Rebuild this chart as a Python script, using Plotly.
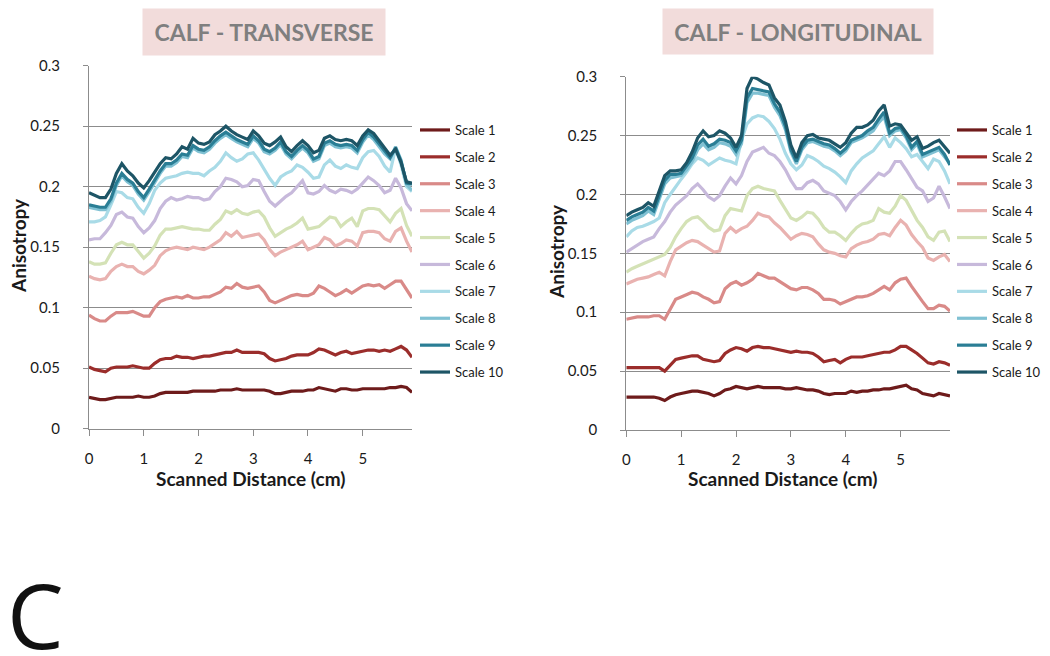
import plotly.graph_objects as go

# ---------------- data ----------------
distance = [0.0, 0.1, 0.2, 0.3, 0.4, 0.5, 0.6, 0.7, 0.8, 0.9,
            1.0, 1.1, 1.2, 1.3, 1.4, 1.5, 1.6, 1.7, 1.8, 1.9,
            2.0, 2.1, 2.2, 2.3, 2.4, 2.5, 2.6, 2.7, 2.8, 2.9,
            3.0, 3.1, 3.2, 3.3, 3.4, 3.5, 3.6, 3.7, 3.8, 3.9,
            4.0, 4.1, 4.2, 4.3, 4.4, 4.5, 4.6, 4.7, 4.8, 4.9,
            5.0, 5.1, 5.2, 5.3, 5.4, 5.5, 5.6, 5.7, 5.8, 5.9]

scale_names = ["Scale 1", "Scale 2", "Scale 3", "Scale 4", "Scale 5",
               "Scale 6", "Scale 7", "Scale 8", "Scale 9", "Scale 10"]

# CALF - TRANSVERSE
trans_s1 = [0.026, 0.025, 0.024, 0.024, 0.025, 0.026, 0.026, 0.026, 0.026, 0.027,
            0.026, 0.026, 0.027, 0.029, 0.030, 0.030, 0.030, 0.030, 0.030, 0.031,
            0.031, 0.031, 0.031, 0.031, 0.032, 0.032, 0.032, 0.033, 0.032, 0.032,
            0.032, 0.032, 0.032, 0.031, 0.029, 0.029, 0.030, 0.031, 0.031, 0.031,
            0.032, 0.032, 0.034, 0.033, 0.032, 0.031, 0.033, 0.033, 0.032, 0.032,
            0.033, 0.033, 0.033, 0.033, 0.033, 0.034, 0.034, 0.035, 0.034, 0.030]
trans_s2 = [0.051, 0.049, 0.048, 0.047, 0.050, 0.051, 0.051, 0.051, 0.052, 0.051,
            0.050, 0.050, 0.054, 0.057, 0.058, 0.058, 0.060, 0.059, 0.059, 0.058,
            0.059, 0.060, 0.060, 0.061, 0.062, 0.063, 0.063, 0.065, 0.063, 0.063,
            0.063, 0.063, 0.062, 0.058, 0.056, 0.057, 0.058, 0.060, 0.061, 0.061,
            0.061, 0.063, 0.066, 0.065, 0.063, 0.061, 0.063, 0.064, 0.062, 0.063,
            0.064, 0.065, 0.065, 0.064, 0.065, 0.064, 0.066, 0.068, 0.065, 0.059]
trans_s3 = [0.094, 0.091, 0.089, 0.089, 0.093, 0.096, 0.096, 0.096, 0.097, 0.095,
            0.093, 0.093, 0.100, 0.105, 0.107, 0.108, 0.109, 0.108, 0.110, 0.108,
            0.108, 0.109, 0.109, 0.111, 0.113, 0.117, 0.116, 0.120, 0.117, 0.116,
            0.117, 0.118, 0.113, 0.106, 0.104, 0.106, 0.108, 0.110, 0.111, 0.110,
            0.110, 0.112, 0.118, 0.116, 0.113, 0.110, 0.112, 0.115, 0.112, 0.115,
            0.118, 0.119, 0.118, 0.119, 0.116, 0.119, 0.122, 0.122, 0.115, 0.108]
trans_s4 = [0.126, 0.124, 0.123, 0.124, 0.130, 0.134, 0.136, 0.134, 0.134, 0.130,
            0.128, 0.131, 0.135, 0.143, 0.147, 0.149, 0.150, 0.149, 0.148, 0.150,
            0.149, 0.148, 0.150, 0.153, 0.156, 0.162, 0.159, 0.163, 0.158, 0.159,
            0.160, 0.161, 0.156, 0.148, 0.143, 0.146, 0.148, 0.150, 0.152, 0.155,
            0.148, 0.150, 0.152, 0.158, 0.156, 0.151, 0.153, 0.156, 0.155, 0.151,
            0.162, 0.163, 0.163, 0.162, 0.157, 0.155, 0.163, 0.166, 0.155, 0.146]
trans_s5 = [0.138, 0.136, 0.136, 0.137, 0.145, 0.152, 0.154, 0.152, 0.152, 0.146,
            0.141, 0.145, 0.151, 0.160, 0.165, 0.165, 0.166, 0.167, 0.166, 0.165,
            0.165, 0.164, 0.164, 0.169, 0.173, 0.180, 0.178, 0.181, 0.178, 0.177,
            0.179, 0.180, 0.175, 0.166, 0.159, 0.162, 0.165, 0.167, 0.170, 0.174,
            0.165, 0.166, 0.167, 0.171, 0.175, 0.174, 0.167, 0.171, 0.174, 0.167,
            0.180, 0.182, 0.182, 0.181, 0.176, 0.171, 0.178, 0.182, 0.168, 0.159]
trans_s6 = [0.156, 0.157, 0.157, 0.162, 0.168, 0.177, 0.179, 0.175, 0.174, 0.167,
            0.162, 0.166, 0.172, 0.182, 0.188, 0.191, 0.189, 0.190, 0.192, 0.191,
            0.191, 0.189, 0.190, 0.196, 0.200, 0.207, 0.206, 0.204, 0.200, 0.201,
            0.206, 0.205, 0.196, 0.188, 0.184, 0.188, 0.192, 0.195, 0.200, 0.205,
            0.195, 0.194, 0.196, 0.201, 0.197, 0.195, 0.198, 0.197, 0.195, 0.198,
            0.203, 0.208, 0.205, 0.201, 0.195, 0.197, 0.207, 0.199, 0.186, 0.180]
trans_s7 = [0.171, 0.171, 0.172, 0.175, 0.185, 0.196, 0.195, 0.191, 0.190, 0.183,
            0.178, 0.186, 0.197, 0.203, 0.207, 0.208, 0.209, 0.211, 0.212, 0.211,
            0.211, 0.209, 0.213, 0.216, 0.221, 0.228, 0.224, 0.221, 0.223, 0.227,
            0.228, 0.222, 0.214, 0.207, 0.201, 0.208, 0.211, 0.213, 0.218, 0.216,
            0.212, 0.207, 0.208, 0.218, 0.222, 0.217, 0.215, 0.218, 0.216, 0.215,
            0.224, 0.229, 0.230, 0.225, 0.217, 0.212, 0.232, 0.218, 0.200, 0.196]
trans_s8 = [0.183, 0.182, 0.181, 0.181, 0.188, 0.201, 0.209, 0.204, 0.201, 0.194,
            0.189, 0.196, 0.204, 0.211, 0.217, 0.217, 0.220, 0.225, 0.224, 0.232,
            0.229, 0.228, 0.231, 0.236, 0.240, 0.243, 0.240, 0.237, 0.235, 0.233,
            0.240, 0.236, 0.229, 0.227, 0.230, 0.235, 0.227, 0.223, 0.228, 0.232,
            0.228, 0.221, 0.223, 0.234, 0.236, 0.233, 0.232, 0.233, 0.232, 0.228,
            0.237, 0.243, 0.239, 0.233, 0.227, 0.223, 0.233, 0.222, 0.202, 0.197]
trans_s9 = [0.185, 0.184, 0.183, 0.183, 0.190, 0.203, 0.211, 0.206, 0.203, 0.196,
            0.191, 0.198, 0.206, 0.213, 0.219, 0.219, 0.222, 0.227, 0.226, 0.234,
            0.231, 0.230, 0.233, 0.238, 0.242, 0.245, 0.242, 0.239, 0.237, 0.235,
            0.242, 0.238, 0.231, 0.229, 0.232, 0.237, 0.229, 0.225, 0.230, 0.234,
            0.230, 0.223, 0.225, 0.236, 0.238, 0.235, 0.234, 0.235, 0.234, 0.230,
            0.239, 0.245, 0.241, 0.235, 0.229, 0.224, 0.232, 0.221, 0.203, 0.202]
trans_s10 = [0.195, 0.193, 0.191, 0.191, 0.198, 0.211, 0.219, 0.213, 0.209, 0.203,
             0.199, 0.205, 0.212, 0.219, 0.224, 0.223, 0.227, 0.233, 0.231, 0.240,
             0.236, 0.235, 0.237, 0.243, 0.246, 0.250, 0.246, 0.243, 0.241, 0.239,
             0.246, 0.242, 0.236, 0.234, 0.237, 0.241, 0.233, 0.229, 0.234, 0.238,
             0.234, 0.228, 0.230, 0.240, 0.242, 0.239, 0.238, 0.239, 0.238, 0.234,
             0.242, 0.247, 0.244, 0.238, 0.232, 0.226, 0.231, 0.220, 0.204, 0.203]

# CALF - LONGITUDINAL
long_s1 = [0.028, 0.028, 0.028, 0.028, 0.028, 0.028, 0.027, 0.025, 0.028, 0.030,
           0.031, 0.032, 0.033, 0.033, 0.032, 0.031, 0.029, 0.031, 0.034, 0.035,
           0.037, 0.036, 0.035, 0.036, 0.037, 0.036, 0.036, 0.036, 0.036, 0.035,
           0.035, 0.036, 0.035, 0.034, 0.034, 0.033, 0.031, 0.030, 0.031, 0.031,
           0.031, 0.033, 0.032, 0.033, 0.033, 0.034, 0.034, 0.035, 0.035, 0.036,
           0.037, 0.038, 0.035, 0.034, 0.031, 0.030, 0.029, 0.031, 0.030, 0.029]
long_s2 = [0.053, 0.053, 0.053, 0.053, 0.053, 0.053, 0.053, 0.050, 0.055, 0.060,
           0.061, 0.062, 0.063, 0.063, 0.060, 0.059, 0.058, 0.059, 0.065, 0.068,
           0.070, 0.069, 0.067, 0.070, 0.071, 0.070, 0.070, 0.069, 0.068, 0.067,
           0.066, 0.067, 0.066, 0.066, 0.065, 0.062, 0.058, 0.059, 0.060, 0.057,
           0.060, 0.062, 0.062, 0.062, 0.063, 0.064, 0.065, 0.066, 0.066, 0.068,
           0.071, 0.071, 0.068, 0.065, 0.061, 0.057, 0.056, 0.058, 0.057, 0.055]
long_s3 = [0.094, 0.095, 0.096, 0.096, 0.096, 0.097, 0.097, 0.094, 0.102, 0.111,
           0.113, 0.115, 0.117, 0.116, 0.113, 0.111, 0.108, 0.109, 0.120, 0.124,
           0.126, 0.123, 0.125, 0.128, 0.133, 0.131, 0.129, 0.129, 0.126, 0.123,
           0.120, 0.119, 0.121, 0.121, 0.119, 0.116, 0.111, 0.111, 0.110, 0.107,
           0.109, 0.111, 0.113, 0.113, 0.114, 0.116, 0.119, 0.122, 0.119, 0.125,
           0.128, 0.129, 0.122, 0.115, 0.109, 0.103, 0.103, 0.106, 0.105, 0.101]
long_s4 = [0.124, 0.126, 0.128, 0.129, 0.130, 0.132, 0.134, 0.131, 0.143, 0.153,
           0.156, 0.159, 0.161, 0.160, 0.157, 0.154, 0.151, 0.152, 0.167, 0.172,
           0.168, 0.171, 0.173, 0.178, 0.184, 0.182, 0.181, 0.176, 0.172, 0.167,
           0.162, 0.165, 0.167, 0.166, 0.164, 0.158, 0.153, 0.151, 0.150, 0.148,
           0.147, 0.154, 0.157, 0.159, 0.160, 0.162, 0.166, 0.167, 0.165, 0.172,
           0.178, 0.174, 0.166, 0.160, 0.155, 0.146, 0.144, 0.147, 0.149, 0.143]
long_s5 = [0.134, 0.137, 0.139, 0.141, 0.143, 0.145, 0.147, 0.149, 0.155, 0.164,
           0.171, 0.177, 0.180, 0.181, 0.177, 0.172, 0.169, 0.170, 0.182, 0.188,
           0.187, 0.186, 0.199, 0.205, 0.207, 0.205, 0.204, 0.203, 0.195, 0.187,
           0.180, 0.178, 0.181, 0.185, 0.184, 0.179, 0.172, 0.168, 0.168, 0.165,
           0.161, 0.167, 0.172, 0.175, 0.176, 0.178, 0.188, 0.185, 0.184, 0.190,
           0.199, 0.195, 0.187, 0.178, 0.172, 0.164, 0.161, 0.168, 0.169, 0.160]
long_s6 = [0.151, 0.154, 0.157, 0.160, 0.162, 0.164, 0.171, 0.177, 0.185, 0.191,
           0.195, 0.199, 0.205, 0.209, 0.204, 0.198, 0.195, 0.199, 0.207, 0.214,
           0.209, 0.216, 0.228, 0.236, 0.238, 0.240, 0.235, 0.233, 0.228, 0.221,
           0.212, 0.205, 0.205, 0.210, 0.212, 0.209, 0.203, 0.201, 0.199, 0.194,
           0.187, 0.194, 0.199, 0.203, 0.208, 0.213, 0.218, 0.216, 0.220, 0.228,
           0.228, 0.221, 0.214, 0.206, 0.203, 0.194, 0.197, 0.207, 0.198, 0.188]
long_s7 = [0.164, 0.169, 0.172, 0.173, 0.175, 0.177, 0.180, 0.193, 0.200, 0.207,
           0.213, 0.219, 0.226, 0.231, 0.229, 0.225, 0.228, 0.231, 0.229, 0.228,
           0.226, 0.246, 0.260, 0.265, 0.267, 0.266, 0.262, 0.256, 0.247, 0.235,
           0.226, 0.221, 0.225, 0.233, 0.231, 0.228, 0.224, 0.222, 0.219, 0.215,
           0.210, 0.220, 0.226, 0.231, 0.234, 0.237, 0.243, 0.249, 0.240, 0.248,
           0.244, 0.239, 0.232, 0.234, 0.228, 0.222, 0.230, 0.228, 0.220, 0.209]
long_s8 = [0.175, 0.178, 0.180, 0.182, 0.186, 0.183, 0.196, 0.209, 0.214, 0.215,
           0.216, 0.221, 0.228, 0.238, 0.243, 0.238, 0.240, 0.244, 0.243, 0.241,
           0.234, 0.243, 0.278, 0.286, 0.286, 0.285, 0.284, 0.274, 0.267, 0.255,
           0.236, 0.226, 0.238, 0.244, 0.245, 0.243, 0.241, 0.240, 0.237, 0.233,
           0.237, 0.244, 0.246, 0.248, 0.251, 0.254, 0.261, 0.266, 0.250, 0.254,
           0.255, 0.248, 0.238, 0.243, 0.232, 0.234, 0.236, 0.238, 0.232, 0.226]
long_s9 = [0.178, 0.181, 0.183, 0.185, 0.189, 0.186, 0.199, 0.212, 0.217, 0.217,
           0.218, 0.224, 0.231, 0.242, 0.247, 0.241, 0.243, 0.247, 0.246, 0.244,
           0.237, 0.246, 0.282, 0.290, 0.289, 0.288, 0.287, 0.277, 0.270, 0.258,
           0.238, 0.228, 0.240, 0.246, 0.247, 0.245, 0.243, 0.242, 0.239, 0.235,
           0.239, 0.246, 0.248, 0.250, 0.254, 0.257, 0.264, 0.270, 0.252, 0.256,
           0.257, 0.250, 0.240, 0.245, 0.234, 0.236, 0.238, 0.240, 0.234, 0.225]
long_s10 = [0.182, 0.185, 0.187, 0.189, 0.193, 0.190, 0.203, 0.216, 0.220, 0.220,
            0.221, 0.227, 0.236, 0.248, 0.254, 0.249, 0.250, 0.254, 0.252, 0.248,
            0.240, 0.250, 0.290, 0.300, 0.298, 0.295, 0.293, 0.282, 0.276, 0.262,
            0.242, 0.231, 0.244, 0.250, 0.251, 0.248, 0.247, 0.246, 0.243, 0.240,
            0.244, 0.252, 0.257, 0.257, 0.259, 0.263, 0.271, 0.276, 0.258, 0.260,
            0.259, 0.253, 0.246, 0.249, 0.239, 0.241, 0.244, 0.246, 0.240, 0.235]

transverse = [trans_s1, trans_s2, trans_s3, trans_s4, trans_s5,
              trans_s6, trans_s7, trans_s8, trans_s9, trans_s10]
longitudinal = [long_s1, long_s2, long_s3, long_s4, long_s5,
                long_s6, long_s7, long_s8, long_s9, long_s10]

y_tickvals = [0, 0.05, 0.1, 0.15, 0.2, 0.25, 0.3]
y_ticktext = ["0", "0.05", "0.1", "0.15", "0.2", "0.25", "0.3"]
x_tickvals = [0, 1, 2, 3, 4, 5]

colors = ["#6e1b1b", "#9b2d2b", "#d98a88", "#e9b2b0", "#d4e2b6",
          "#c7b9db", "#a9dbe7", "#80c1d3", "#2a7e95", "#1d5566"]

FONT = "Lato, 'Open Sans', sans-serif"
GRID = "#8c8c8c"

fig = go.Figure()

for i, name in enumerate(scale_names):
    fig.add_trace(go.Scatter(
        x=distance, y=transverse[i], name=name, mode="lines",
        line=dict(color=colors[i], width=3.2),
        xaxis="x", yaxis="y", legend="legend", legendgroup="t%d" % i,
    ))
for i, name in enumerate(scale_names):
    fig.add_trace(go.Scatter(
        x=distance, y=longitudinal[i], name=name, mode="lines",
        line=dict(color=colors[i], width=3.2),
        xaxis="x2", yaxis="y2", legend="legend2", legendgroup="l%d" % i,
    ))

W, H = 1050, 656
OFF = 8  # page body margin in the browser


def px(x):
    return (x - OFF) / W


def py(y):
    return 1 - (y - OFF) / H


def xd(a, b):
    return [px(a), px(b)]


def yd(top, bottom):
    return [py(bottom), py(top)]


axis_common_x = dict(
    range=[0, 5.9], tickvals=x_tickvals, showgrid=False, zeroline=False,
    showline=True, linecolor=GRID, linewidth=1, automargin=False,
    ticks="outside", ticklen=6, tickcolor=GRID, ticklabelstandoff=10,
    tickfont=dict(family=FONT, size=15, color="#1a1a1a"),
)
axis_common_y = dict(
    range=[0, 0.3], tickvals=y_tickvals, ticktext=y_ticktext,
    showgrid=True, gridcolor=GRID, gridwidth=1, zeroline=False,
    showline=True, linecolor=GRID, linewidth=1, automargin=False,
    ticks="outside", ticklen=5, tickcolor=GRID, ticklabelstandoff=20,
    tickfont=dict(family=FONT, size=15, color="#1a1a1a"),
)

legend_common = dict(
    font=dict(family=FONT, size=13, color="#1a1a1a"),
    bgcolor="rgba(0,0,0,0)", tracegroupgap=7,
    xanchor="left", yanchor="top", itemwidth=30,
)

fig.update_layout(
    width=W, height=H,
    margin=dict(l=0, r=0, t=0, b=0, pad=0, autoexpand=False),
    paper_bgcolor="white", plot_bgcolor="white",
    xaxis=dict(domain=xd(89, 412), anchor="y", **axis_common_x),
    yaxis=dict(domain=yd(65.7, 428.7), anchor="x", **axis_common_y),
    xaxis2=dict(domain=xd(626.3, 950), anchor="y2", **axis_common_x),
    yaxis2=dict(domain=yd(76.7, 430), anchor="x2", **axis_common_y),
    legend=dict(x=px(415), y=py(115), **legend_common),
    legend2=dict(x=px(952), y=py(115), **legend_common),
    showlegend=True,
)

annots = [
    dict(text="<b>CALF - TRANSVERSE</b>", x=px(264), y=py(32),
         width=242, height=46, bgcolor="#f2dcdb",
         font=dict(family=FONT, size=23, color="#7f7f7f")),
    dict(text="<b>CALF - LONGITUDINAL</b>", x=px(798), y=py(31.5),
         width=270, height=45, bgcolor="#f2dcdb",
         font=dict(family=FONT, size=23, color="#7f7f7f")),
    dict(text="<b>Scanned Distance (cm)</b>", x=px(250), y=py(478),
         font=dict(family=FONT, size=19, color="#1a1a1a")),
    dict(text="<b>Scanned Distance (cm)</b>", x=px(782), y=py(478),
         font=dict(family=FONT, size=19, color="#1a1a1a")),
    dict(text="<b>Anisotropy</b>", x=px(18), y=py(246), textangle=-90,
         font=dict(family=FONT, size=19, color="#1a1a1a")),
    dict(text="<b>Anisotropy</b>", x=px(556), y=py(252), textangle=-90,
         font=dict(family=FONT, size=19, color="#1a1a1a")),
    dict(text="C", x=px(35), y=py(614),
         font=dict(family="'Open Sans', sans-serif", size=90, color="#111111")),
]
for a in annots:
    fig.add_annotation(xref="paper", yref="paper", showarrow=False,
                       xanchor="center", yanchor="middle", borderpad=0, **a)

fig.write_html("out.html")
